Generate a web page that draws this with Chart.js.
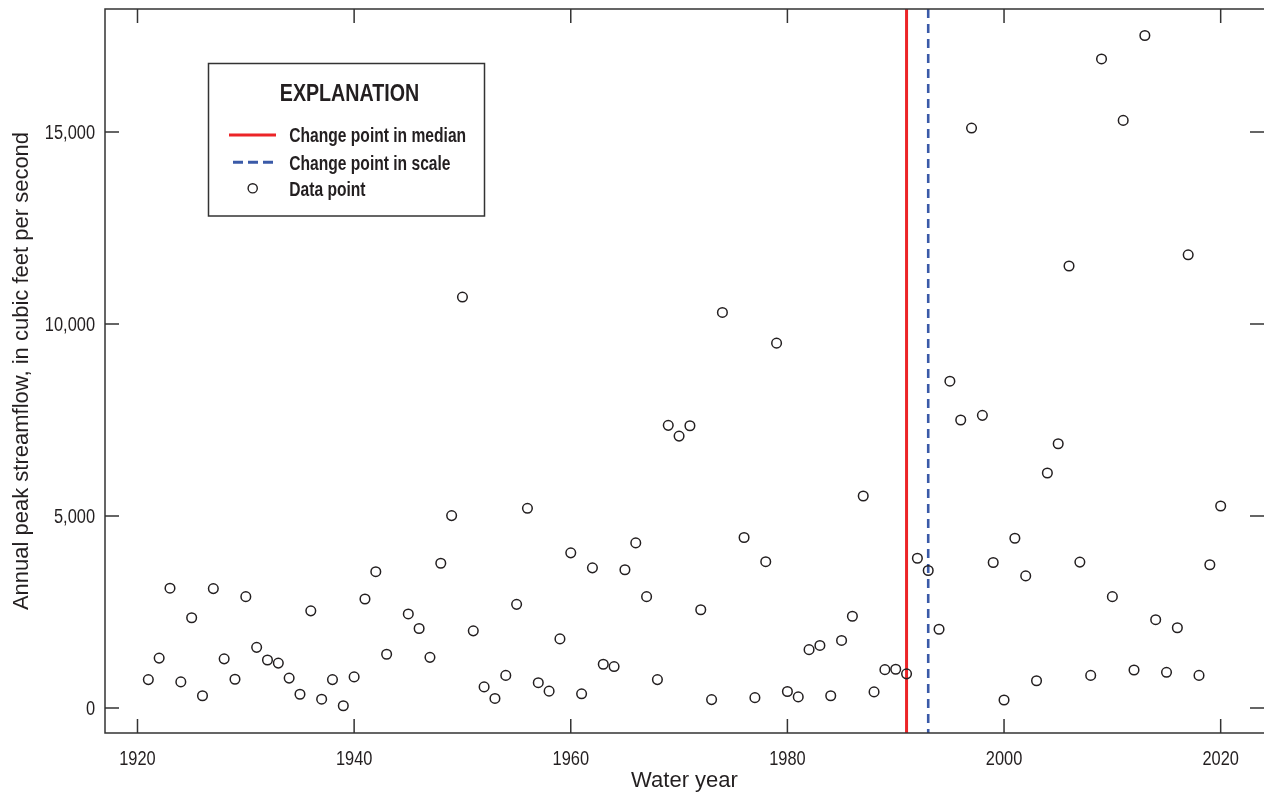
<!DOCTYPE html>
<html><head><meta charset="utf-8">
<script src="https://cdn.jsdelivr.net/npm/chart.js@4"></script>
<style>html,body{margin:0;padding:0;background:#fff;}</style>
</head><body>
<canvas id="c" width="1264" height="797"></canvas>
<script>
// ---- data ----
const waterYears = [
  1921,1922,1923,1924,1925,1926,1927,1928,1929,1930,
  1931,1932,1933,1934,1935,1936,1937,1938,1939,1940,
  1941,1942,1943,1945,1946,1947,1948,1949,1950,
  1951,1952,1953,1954,1955,1956,1957,1958,1959,1960,
  1961,1962,1963,1964,1965,1966,1967,1968,1969,1970,
  1971,1972,1973,1974,1976,1977,1978,1979,1980,
  1981,1982,1983,1984,1985,1986,1987,1988,1989,1990,
  1991,1992,1993,1994,1995,1996,1997,1998,1999,2000,
  2001,2002,2003,2004,2005,2006,2007,2008,2009,2010,
  2011,2012,2013,2014,2015,2016,2017,2018,2019,2020
];
const peakFlow = [
  740,1300,3120,680,2350,320,3110,1280,750,2900,
  1580,1250,1170,780,360,2530,230,740,60,810,
  2840,3550,1400,2450,2070,1320,3770,5010,10700,
  2010,550,250,850,2700,5200,660,440,1800,4040,
  370,3650,1140,1080,3600,4300,2900,740,7360,7080,
  7350,2560,220,10300,4440,270,3810,9500,430,
  290,1520,1630,320,1760,2390,5520,420,1000,1010,
  890,3900,3580,2050,8510,7500,15100,7620,3790,210,
  4420,3440,710,6120,6880,11510,3800,850,16900,2900,
  15300,990,17510,2300,930,2090,11800,850,3730,5260
];
const medianChangeYear = 1991;
const scaleChangeYear = 1993;
const xTickValues = [1920, 1940, 1960, 1980, 2000, 2020];
const yTickValues = [0, 5000, 10000, 15000];
const xTitle = 'Water year';
const yTitle = 'Annual peak streamflow, in cubic feet per second';
const legendTitle = 'EXPLANATION';
const legendLabels = ['Change point in median', 'Change point in scale', 'Data point'];

// ---- styles ----
const TEXT = '#231f20';
const FRAME = '#333333';
const RED = '#ec2427';
const BLUE = '#3a5aa8';
const REG = "'Liberation Sans', Arial, sans-serif";

function condensedText(ctx, text, x, y, sx, align) {
  ctx.save();
  ctx.translate(x, y);
  ctx.scale(sx, 1);
  ctx.textAlign = align;
  ctx.textBaseline = 'alphabetic';
  ctx.fillText(text, 0, 0);
  ctx.restore();
}

const extras = {
  id: 'extras',
  beforeDatasetsDraw(chart) {
    const {ctx, chartArea: a, scales: {x}} = chart;
    ctx.save();
    ctx.lineWidth = 3;
    ctx.strokeStyle = RED;
    let px = x.getPixelForValue(medianChangeYear);
    ctx.beginPath(); ctx.moveTo(px, a.top); ctx.lineTo(px, a.bottom); ctx.stroke();
    ctx.strokeStyle = BLUE;
    ctx.lineWidth = 2.6;
    ctx.setLineDash([9, 6]);
    px = x.getPixelForValue(scaleChangeYear);
    ctx.beginPath(); ctx.moveTo(px, a.top); ctx.lineTo(px, a.bottom); ctx.stroke();
    ctx.restore();
  },
  afterDraw(chart) {
    const {ctx, chartArea: a, scales: {x, y}} = chart;
    ctx.save();
    // frame (right edge falls at the canvas edge)
    ctx.strokeStyle = FRAME;
    ctx.lineWidth = 1.5;
    ctx.beginPath();
    ctx.moveTo(a.right + 1, a.top); ctx.lineTo(a.left, a.top);
    ctx.lineTo(a.left, a.bottom); ctx.lineTo(a.right + 1, a.bottom);
    ctx.stroke();
    // inward ticks
    const tl = 14;
    ctx.beginPath();
    xTickValues.forEach(v => {
      const p = x.getPixelForValue(v);
      ctx.moveTo(p, a.bottom); ctx.lineTo(p, a.bottom - tl);
      ctx.moveTo(p, a.top); ctx.lineTo(p, a.top + tl);
    });
    yTickValues.forEach(v => {
      const p = y.getPixelForValue(v);
      ctx.moveTo(a.left, p); ctx.lineTo(a.left + tl, p);
      ctx.moveTo(a.right, p); ctx.lineTo(a.right - tl, p);
    });
    ctx.stroke();

    // tick labels (condensed face)
    ctx.fillStyle = TEXT;
    ctx.font = '20px ' + REG;
    xTickValues.forEach(v => condensedText(ctx, String(v), x.getPixelForValue(v), a.bottom + 32, 0.82, 'center'));
    yTickValues.forEach(v => condensedText(ctx, v.toLocaleString('en-US'), a.left - 10, y.getPixelForValue(v) + 7.3, 0.82, 'right'));

    // legend box
    const bx = 208.5, by = 63.5, bw = 276, bh = 152.5;
    ctx.fillStyle = '#fff';
    ctx.fillRect(bx, by, bw, bh);
    ctx.strokeStyle = FRAME;
    ctx.lineWidth = 1.5;
    ctx.strokeRect(bx, by, bw, bh);
    ctx.fillStyle = TEXT;
    ctx.font = 'bold 23px ' + REG;
    condensedText(ctx, legendTitle, 349.5, 101, 0.855, 'center');
    ctx.font = 'bold 20px ' + REG;
    const base = [142.3, 170, 195.5];
    legendLabels.forEach((t, i) => condensedText(ctx, t, 289.3, base[i], 0.78, 'left'));
    // samples
    const rows = [135, 162.3, 188.3];
    ctx.lineWidth = 3;
    ctx.strokeStyle = RED;
    ctx.beginPath(); ctx.moveTo(229, rows[0]); ctx.lineTo(276, rows[0]); ctx.stroke();
    ctx.strokeStyle = BLUE;
    ctx.setLineDash([10, 5]);
    ctx.beginPath(); ctx.moveTo(233, rows[1]); ctx.lineTo(276, rows[1]); ctx.stroke();
    ctx.setLineDash([]);
    ctx.strokeStyle = TEXT;
    ctx.lineWidth = 1.4;
    ctx.beginPath(); ctx.arc(252.7, rows[2], 4.6, 0, Math.PI * 2); ctx.stroke();
    ctx.restore();
  }
};

new Chart(document.getElementById('c'), {
  type: 'scatter',
  data: {
    datasets: [{
      label: legendLabels[2],
      data: waterYears.map((yr, i) => ({x: yr, y: peakFlow[i]})),
      pointStyle: 'circle',
      pointRadius: 4.8,
      pointBorderWidth: 1.5,
      borderColor: TEXT,
      backgroundColor: 'rgba(0,0,0,0)'
    }]
  },
  options: {
    responsive: false,
    animation: false,
    devicePixelRatio: 1,
    layout: {autoPadding: false, padding: {top: 9, right: 0, left: 0, bottom: 0}},
    plugins: {legend: {display: false}, tooltip: {enabled: false}},
    scales: {
      x: {
        type: 'linear', min: 1917, max: 2024,
        afterBuildTicks: s => { s.ticks = xTickValues.map(v => ({value: v})); },
        afterFit: s => { s.height = 64; s.paddingLeft = 0; s.paddingRight = 0; },
        grid: {display: false, drawTicks: false},
        border: {display: false},
        ticks: {display: false},
        title: {display: true, text: xTitle, color: TEXT, font: {family: REG, size: 22}, padding: {top: 0, bottom: 3}}
      },
      y: {
        type: 'linear', min: -650, max: 18200,
        afterBuildTicks: s => { s.ticks = yTickValues.map(v => ({value: v})); },
        afterFit: s => { s.width = 105; s.paddingTop = 0; s.paddingBottom = 0; },
        grid: {display: false, drawTicks: false},
        border: {display: false},
        ticks: {display: false},
        title: {display: true, text: yTitle, color: TEXT, font: {family: REG, size: 22}, padding: {top: 9, bottom: 0}}
      }
    }
  },
  plugins: [extras]
});
</script>
</body></html>
